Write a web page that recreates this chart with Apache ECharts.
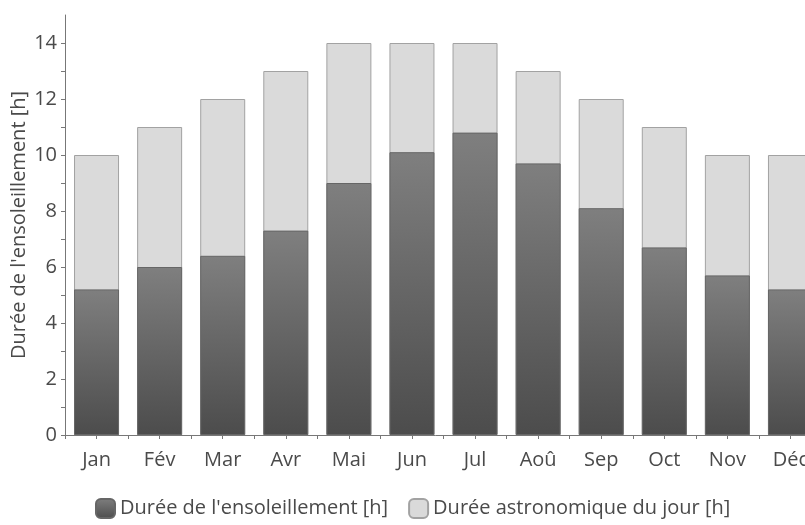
<!DOCTYPE html>
<html>
<head>
<meta charset="utf-8">
<script src="https://cdn.jsdelivr.net/npm/echarts@6/dist/echarts.min.js"></script>
<style>html,body{margin:0;padding:0;background:#fff}#c{width:805px;height:525px}</style>
</head>
<body>
<div id="c"></div>
<script>
const months = ['Jan','Fév','Mar','Avr','Mai','Jun','Jul','Aoû','Sep','Oct','Nov','Déc'];
const sunshine = [5.2, 6.0, 6.4, 7.3, 9.0, 10.1, 10.8, 9.7, 8.1, 6.7, 5.7, 5.2];
const dayLength = [10, 11, 12, 13, 14, 14, 14, 13, 12, 11, 10, 10];
const yLabels = [0, 2, 4, 6, 8, 10, 12, 14];
const yTicks = [0,1,2,3,4,5,6,7,8,9,10,11,12,13,14];
const nameSun = "Durée de l'ensoleillement [h]";
const nameDay = "Durée astronomique du jour [h]";

const font = "'Open Sans', 'Noto Sans', sans-serif";
const txt = '#4a4a4a';
const chart = echarts.init(document.getElementById('c'), null, {renderer: 'canvas'});
chart.setOption({
  animation: false,
  textStyle: {fontFamily: font},
  grid: {left: 65, width: 757, top: 15, bottom: 90, containLabel: false, outerBoundsMode: 'none'},
  legend: {
    data: [nameSun, nameDay],
    bottom: 1,
    left: 90,
    itemWidth: 19,
    itemHeight: 19,
    itemGap: 20,
    icon: 'roundRect',
    textStyle: {fontFamily: font, fontSize: 20, color: txt}
  },
  xAxis: [{
    type: 'category',
    data: months,
    axisLine: {lineStyle: {color: '#777', width: 1}},
    axisTick: {show: true, length: 4, lineStyle: {color: '#777'}},
    axisLabel: {color: txt, fontSize: 20, margin: 15, fontFamily: font}
  }, {
    type: 'category',
    data: months,
    position: 'bottom',
    axisLine: {show: false},
    axisTick: {show: true, alignWithLabel: true, length: 4, lineStyle: {color: '#777'}},
    axisLabel: {show: false}
  }],
  yAxis: {
    type: 'value',
    min: 0,
    max: 15,
    interval: 1,
    name: "Durée de l'ensoleillement [h]",
    nameLocation: 'middle',
    nameGap: 36,
    nameMoveOverlap: false,
    nameTextStyle: {color: txt, fontSize: 20, fontFamily: font},
    axisLine: {show: true, lineStyle: {color: '#777', width: 1}},
    axisTick: {show: true, length: 4, customValues: yTicks, lineStyle: {color: '#777'}},
    axisLabel: {customValues: yLabels, color: txt, fontSize: 20, margin: 8, fontFamily: font},
    splitLine: {show: false}
  },
  series: [{
    name: nameDay,
    type: 'bar',
    data: dayLength,
    barWidth: 45,
    barGap: '-100%',
    z: 2,
    itemStyle: {color: '#dadada', borderColor: '#a2a2a2', borderWidth: 1}
  }, {
    name: nameSun,
    type: 'bar',
    data: sunshine,
    barWidth: 45,
    barGap: '-100%',
    z: 3,
    itemStyle: {
      color: new echarts.graphic.LinearGradient(0, 0, 0, 1, [
        {offset: 0, color: '#7f7f7f'},
        {offset: 1, color: '#4c4c4c'}
      ]),
      borderColor: '#666',
      borderWidth: 1
    }
  }]
});
</script>
</body>
</html>
